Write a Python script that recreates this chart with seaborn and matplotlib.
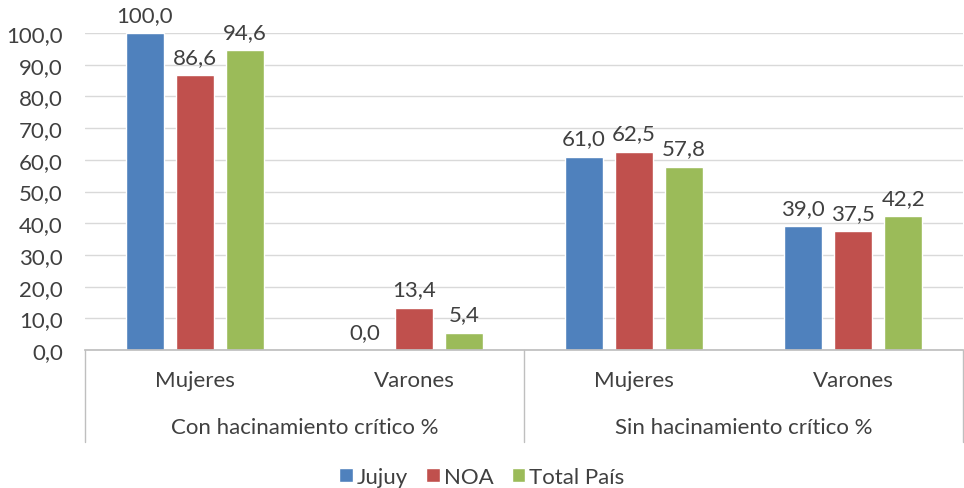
import matplotlib
matplotlib.use("Agg")
import matplotlib.pyplot as plt
import seaborn as sns
import pandas as pd
from matplotlib.patches import Patch
from matplotlib.lines import Line2D

subcats = ["Mujeres", "Varones", "Mujeres", "Varones"]
groups = ["Con hacinamiento crítico %", "Sin hacinamiento crítico %"]
series = ["Jujuy", "NOA", "Total País"]
jujuy = [100.0, 0.0, 61.0, 39.0]
noa = [86.6, 13.4, 62.5, 37.5]
total = [94.6, 5.4, 57.8, 42.2]
colors = ["#4F81BD", "#C0504D", "#9BBB59"]
yticks = [0, 10, 20, 30, 40, 50, 60, 70, 80, 90, 100]

rows = []
for s, vals in zip(series, [jujuy, noa, total]):
    for i, v in enumerate(vals):
        rows.append({"pos": i, "serie": s, "valor": v})
df = pd.DataFrame(rows)

sns.set_theme(style="white")
plt.rcParams["font.family"] = ["Lato", "DejaVu Sans"]
txt = "#404040"
fs = 16

fig = plt.figure(figsize=(9.64, 4.89), dpi=100)
ax = fig.add_axes([85/964, 1-351/489, (963-85)/964, (351-34)/489])
sns.barplot(data=df, x="pos", y="valor", hue="serie", palette=colors,
            width=0.682, gap=0.24, ax=ax, legend=False, saturation=1)
ax.set_ylim(0, 100)
ax.set_xlim(-0.5, 3.5)
ax.set_yticks(yticks)
ax.set_yticklabels([f"{t:.1f}".replace(".", ",") for t in yticks], fontsize=fs, color=txt)
ax.tick_params(axis="y", length=0, pad=16)
ax.set_xticks([])
ax.set_xlabel("")
ax.set_ylabel("")
ax.yaxis.grid(True, color="#D9D9D9", linewidth=1)
ax.set_axisbelow(True)
for sp in ["left", "right", "top"]:
    ax.spines[sp].set_visible(False)
ax.spines["bottom"].set_color("#BFBFBF")

for cont in ax.containers:
    ax.bar_label(cont, labels=[f"{v:.1f}".replace(".", ",") for v in cont.datavalues],
                 padding=6, fontsize=fs, color=txt)

tr = ax.get_xaxis_transform()
for i, s in enumerate(subcats):
    ax.text(i, -0.095, s, transform=tr, ha="center", va="center", fontsize=fs, color=txt)
for g, c in enumerate([0.5, 2.5]):
    ax.text(c, -0.243, groups[g], transform=tr, ha="center", va="center", fontsize=fs, color=txt)
for xs in [-0.5, 1.5, 3.5]:
    ax.add_line(Line2D([xs, xs], [0, -0.29], transform=tr, color="#BFBFBF", lw=1, clip_on=False))

handles = [Patch(facecolor=c, label=s) for c, s in zip(colors, series)]
fig.legend(handles=handles, loc="center", bbox_to_anchor=(0.5, 1-478/489), ncol=3,
           frameon=False, fontsize=fs, handlelength=0.6, handleheight=0.6,
           handletextpad=0.2, columnspacing=0.8, labelcolor=txt, borderpad=0)

fig.savefig("out.png", dpi=100)
